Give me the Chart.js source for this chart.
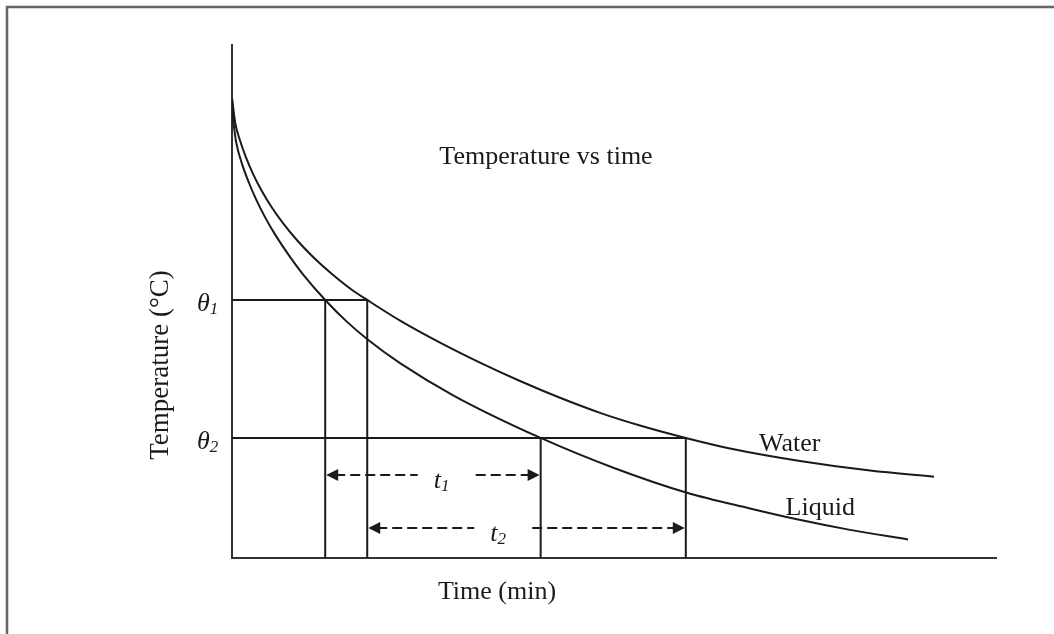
<!DOCTYPE html>
<html lang="en">
<head>
    <meta charset="UTF-8">
    <title>Temperature vs time</title>
    <script src="https://cdn.jsdelivr.net/npm/chart.js"></script>
    <style>
        body { margin: 0; background: #fff; }
        canvas { display: block; }
    </style>
</head>
<body>
    <canvas id="chart" width="1054" height="634"></canvas>
    <script>
        // time (min) and temperature values (arbitrary units)
        const waterTime = [0, 0.43, 1.03, 1.79, 2.72, 3.83, 5.15, 6.7, 8.49, 10.58, 12.97, 15.72, 17.7,
            22.0, 27.23, 32.46, 37.7, 42.93, 48.17, 53.4, 59.4, 65.18, 74.35, 83.51, 91.88];
        const waterTemp = [89.67, 84.74, 81.48, 78.23, 74.99, 71.73, 68.48, 65.24, 61.99, 58.73, 55.5, 52.24, 50.3,
            46.28, 41.99, 38.09, 34.5, 31.23, 28.3, 25.83, 23.4, 21.35, 18.91, 17.04, 15.85];
        const liquidTime = [0, 0.13, 0.33, 0.52, 1.31, 2.23, 3.14, 4.32, 5.63, 7.59, 9.29, 12.2, 14.92, 17.67,
            21.99, 29.06, 40.4, 50.0, 59.55, 67.8, 73.95, 80.89, 88.48];
        const liquidTemp = [89.67, 85.96, 83.24, 81.21, 76.82, 73.1, 69.96, 66.45, 63.08, 58.69, 55.3, 50.3, 46.22, 42.69,
            37.99, 31.62, 23.4, 17.54, 12.71, 9.65, 7.54, 5.48, 3.61];

        const thetaLevels = [50.3, 23.4];      // θ1, θ2
        const thetaLabels = ["1", "2"];
        const liquidCross = [12.2, 40.4];      // liquid reaches θ1, θ2
        const waterCross = [17.7, 59.4];       // water reaches θ1, θ2
        const arrowLevels = [16.2, 5.85];      // t1, t2 arrows
        const arrowLabelX = [26.4, 33.8];

        function toPoints(xs, ys) {
            return xs.map((x, i) => ({ x: x, y: ys[i] }));
        }

        const ink = '#1a1a1a';
        const serif = '"Liberation Serif", "Times New Roman", serif';

        const datasets = [
            { label: 'Water', data: toPoints(waterTime, waterTemp), cubicInterpolationMode: 'monotone' },
            { label: 'Liquid', data: toPoints(liquidTime, liquidTemp), cubicInterpolationMode: 'monotone' }
        ];
        thetaLevels.forEach((lvl, i) => {
            datasets.push({ label: 'theta' + (i + 1), data: [{ x: 0, y: lvl }, { x: waterCross[i], y: lvl }] });
            datasets.push({ label: 'liq' + (i + 1), data: [{ x: liquidCross[i], y: lvl }, { x: liquidCross[i], y: 0 }] });
            datasets.push({ label: 'wat' + (i + 1), data: [{ x: waterCross[i], y: lvl }, { x: waterCross[i], y: 0 }] });
        });
        datasets.forEach(d => {
            d.borderColor = ink;
            d.borderWidth = 2;
            d.pointRadius = 0;
            d.fill = false;
        });

        function drawArrowHead(ctx, x, y, dir) {
            ctx.beginPath();
            ctx.moveTo(x, y);
            ctx.lineTo(x - dir * 12, y - 6);
            ctx.lineTo(x - dir * 12, y + 6);
            ctx.closePath();
            ctx.fill();
        }

        function drawSubText(ctx, main, sub, x, y) {
            ctx.font = 'italic 26px ' + serif;
            ctx.textAlign = 'left';
            ctx.fillText(main, x, y);
            const w = ctx.measureText(main).width;
            ctx.font = 'italic 17px ' + serif;
            ctx.fillText(sub, x + w, y + 3);
        }

        const decor = {
            id: 'decor',
            beforeDraw(chart) {
                const ctx = chart.ctx;
                ctx.save();
                ctx.strokeStyle = '#666';
                ctx.lineWidth = 2.5;
                ctx.beginPath();
                ctx.moveTo(7, 634);
                ctx.lineTo(7, 7);
                ctx.lineTo(1054, 7);
                ctx.stroke();
                ctx.restore();
            },
            afterDatasetsDraw(chart) {
                const ctx = chart.ctx;
                const xs = chart.scales.x, ys = chart.scales.y;
                ctx.save();
                ctx.fillStyle = ink;
                ctx.strokeStyle = ink;

                // t1 / t2 dashed arrows
                const starts = [liquidCross[0], waterCross[0]];
                const ends = [liquidCross[1], waterCross[1]];
                arrowLevels.forEach((lvl, i) => {
                    const y = ys.getPixelForValue(lvl);
                    const x1 = xs.getPixelForValue(starts[i]);
                    const x2 = xs.getPixelForValue(ends[i]);
                    const lx = xs.getPixelForValue(arrowLabelX[i]);
                    ctx.lineWidth = 2;
                    ctx.setLineDash([10, 5]);
                    ctx.beginPath();
                    ctx.moveTo(x1 + 10, y);
                    ctx.lineTo(lx - 16, y);
                    ctx.moveTo(lx + 42, y);
                    ctx.lineTo(x2 - 10, y);
                    ctx.stroke();
                    ctx.setLineDash([]);
                    drawArrowHead(ctx, x1 + 1, y, -1);
                    drawArrowHead(ctx, x2 - 1, y, 1);
                    ctx.textBaseline = 'alphabetic';
                    drawSubText(ctx, 't', String(i + 1), lx, y + 13);
                });

                // θ labels
                thetaLevels.forEach((lvl, i) => {
                    const y = ys.getPixelForValue(lvl);
                    drawSubText(ctx, 'θ', thetaLabels[i], 197, y + 11);
                });

                ctx.font = '26px ' + serif;
                ctx.textAlign = 'center';
                ctx.fillText('Temperature vs time', 546, 164);
                ctx.fillText('Time (min)', 497, 599);
                ctx.fillText('Water', xs.getPixelForValue(73.0), ys.getPixelForValue(20.9));
                ctx.fillText('Liquid', xs.getPixelForValue(77.0), ys.getPixelForValue(8.4));

                ctx.font = '27px ' + serif;
                ctx.translate(168, 365);
                ctx.rotate(-Math.PI / 2);
                ctx.fillText('Temperature (°C)', 0, 0);
                ctx.restore();
            }
        };

        const axisStyle = {
            type: 'linear',
            min: 0,
            max: 100,
            ticks: { display: false },
            grid: { display: false, drawTicks: false },
            border: { display: true, color: '#333', width: 2 }
        };

        new Chart(document.getElementById('chart'), {
            type: 'line',
            data: { datasets: datasets },
            options: {
                responsive: false,
                animation: false,
                layout: { padding: { left: 232, right: 58, top: 45, bottom: 76 } },
                scales: {
                    x: axisStyle,
                    y: Object.assign({}, axisStyle)
                },
                plugins: {
                    legend: { display: false },
                    tooltip: { enabled: false }
                }
            },
            plugins: [decor]
        });
    </script>
</body>
</html>
